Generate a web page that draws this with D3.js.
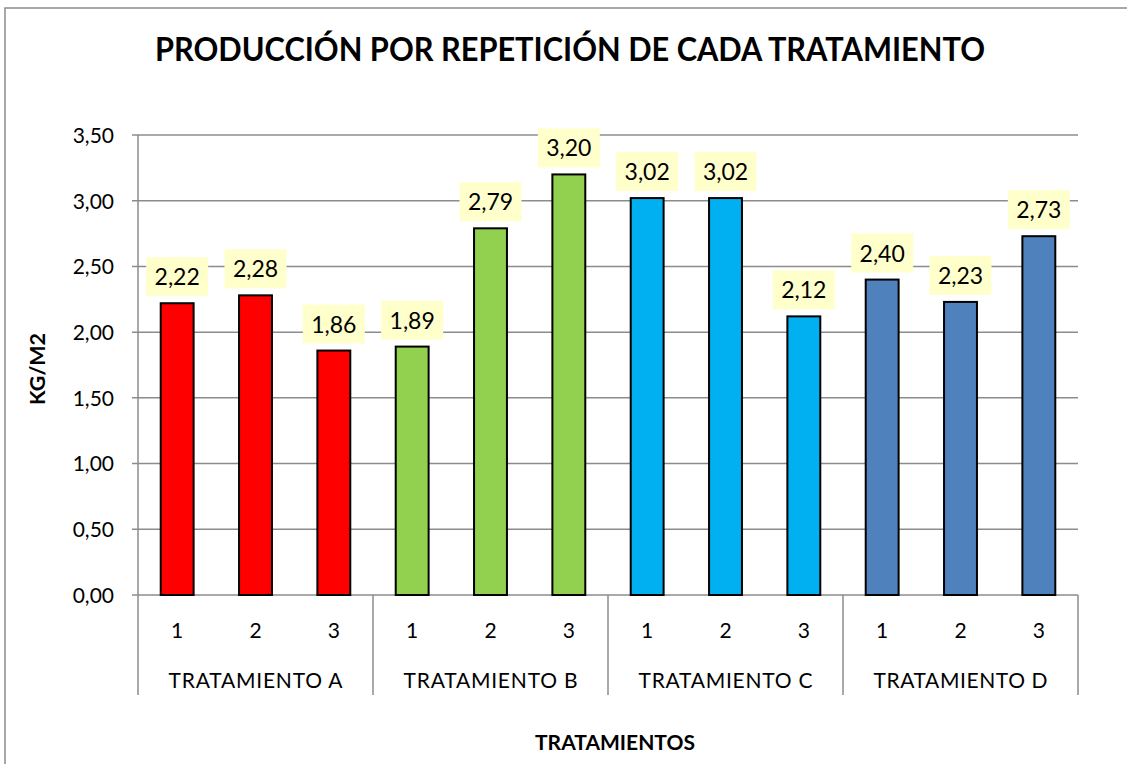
<!DOCTYPE html>
<html>
<head>
<meta charset="utf-8">
<script src="https://cdn.jsdelivr.net/npm/d3@7"></script>
<style>
  html, body { margin: 0; background: #fff; overflow: hidden; }
  svg { display: block; }
  text { font-family: Lato, "Open Sans", sans-serif; fill: #000; }
</style>
</head>
<body>
<div id="chart-area"></div>
<script>
// Data
var groups = ["TRATAMIENTO A", "TRATAMIENTO B", "TRATAMIENTO C", "TRATAMIENTO D"];
var reps = ["1", "2", "3"];
var valuesA = [2.22, 2.28, 1.86];
var valuesB = [1.89, 2.79, 3.20];
var valuesC = [3.02, 3.02, 2.12];
var valuesD = [2.40, 2.23, 2.73];
var groupColors = ["#FF0000", "#92D050", "#00B0F0", "#4F81BD"];
var yTicks = [0, 0.5, 1, 1.5, 2, 2.5, 3, 3.5];

var allValues = [valuesA, valuesB, valuesC, valuesD];
var data = [];
groups.forEach(function(g, gi) {
    reps.forEach(function(r, ri) {
        data.push({ group: g, rep: r, value: allValues[gi][ri], color: groupColors[gi] });
    });
});

var W = 1127, H = 764;
var margin = { top: 135, right: 49, bottom: 169, left: 138 },
    width  = W - margin.left - margin.right,
    height = H - margin.top - margin.bottom;

var fmt = function(v) { return v.toFixed(2).replace(".", ","); };

var svg = d3.select("#chart-area")
    .append("svg")
    .attr("width", W)
    .attr("height", H);

// outer chart border: only left and top edges are inside the picture
svg.append("path")
    .attr("d", "M5," + H + "V8H" + W)
    .attr("fill", "none")
    .attr("stroke", "#8c8c8c")
    .attr("stroke-width", 1.5);

// title
svg.append("text")
    .attr("x", 570)
    .attr("y", 61)
    .attr("text-anchor", "middle")
    .attr("textLength", 830)
    .attr("lengthAdjust", "spacingAndGlyphs")
    .style("font-size", "32px")
    .style("font-weight", "bold")
    .text("PRODUCCIÓN POR REPETICIÓN DE CADA TRATAMIENTO");

var g = svg.append("g")
    .attr("transform", "translate(" + margin.left + "," + margin.top + ")");

// scales
var x0 = d3.scaleBand()
    .domain(groups)
    .range([0, width])
    .padding(0);

var x1 = d3.scaleBand()
    .domain(reps)
    .range([0, x0.bandwidth()])
    .paddingInner(0.58)
    .paddingOuter(0.29);

var yScale = d3.scaleLinear()
    .domain([0, 3.5])
    .range([height, 0]);

// gridlines
g.append("g")
    .selectAll("line")
    .data(yTicks)
    .enter()
    .append("line")
    .attr("x1", -6)
    .attr("x2", width)
    .attr("y1", function(d) { return yScale(d); })
    .attr("y2", function(d) { return yScale(d); })
    .attr("stroke", "#8c8c8c")
    .attr("stroke-width", 1.5);

// y axis
var yAxis = d3.axisLeft(yScale)
    .tickValues(yTicks)
    .tickSize(0)
    .tickPadding(24)
    .tickFormat(fmt);

var yAxisG = g.append("g")
    .attr("class", "y axis")
    .call(yAxis);
yAxisG.select(".domain").remove();
yAxisG.selectAll("text")
    .style("font-family", "Lato, sans-serif")
    .style("font-size", "21px")
    .attr("dy", "0.35em");

// vertical axis line and category separators
var sepX = [0].concat(groups.map(function(d) { return x0(d) + x0.bandwidth(); }));
g.append("g")
    .selectAll("line")
    .data(sepX)
    .enter()
    .append("line")
    .attr("x1", function(d) { return d; })
    .attr("x2", function(d) { return d; })
    .attr("y1", function(d, i) { return i === 0 ? 0 : height; })
    .attr("y2", height + 100)
    .attr("stroke", "#8c8c8c")
    .attr("stroke-width", 1.5);

// bars
var groupG = g.selectAll(".grp")
    .data(groups)
    .enter()
    .append("g")
    .attr("class", "grp")
    .attr("transform", function(d) { return "translate(" + x0(d) + ",0)"; });

groupG.selectAll(".bar")
    .data(function(d) { return data.filter(function(e) { return e.group === d; }); })
    .enter()
    .append("rect")
    .attr("class", "bar")
    .attr("x", function(d) { return x1(d.rep); })
    .attr("width", x1.bandwidth())
    .attr("y", function(d) { return yScale(d.value); })
    .attr("height", function(d) { return height - yScale(d.value); })
    .attr("fill", function(d) { return d.color; })
    .attr("stroke", "#000")
    .attr("stroke-width", 2);

// data labels
var labels = groupG.selectAll(".lbl")
    .data(function(d) { return data.filter(function(e) { return e.group === d; }); })
    .enter()
    .append("g")
    .attr("class", "lbl")
    .attr("transform", function(d) {
        return "translate(" + (x1(d.rep) + x1.bandwidth() / 2) + "," + (yScale(d.value) - 7) + ")";
    });

labels.append("rect")
    .attr("x", -31)
    .attr("y", -39)
    .attr("width", 62)
    .attr("height", 39)
    .attr("fill", "#FFFFCC");

labels.append("text")
    .attr("text-anchor", "middle")
    .attr("y", -11)
    .style("font-size", "23px")
    .text(function(d) { return fmt(d.value); });

// x labels: repetitions
groupG.selectAll(".rep")
    .data(reps)
    .enter()
    .append("text")
    .attr("class", "rep")
    .attr("x", function(d) { return x1(d) + x1.bandwidth() / 2; })
    .attr("y", height + 43)
    .attr("text-anchor", "middle")
    .style("font-size", "21px")
    .text(function(d) { return d; });

// x labels: groups
groupG.append("text")
    .attr("x", x0.bandwidth() / 2)
    .attr("y", height + 93)
    .attr("text-anchor", "middle")
    .style("font-size", "21px")
    .attr("textLength", 174)
    .attr("lengthAdjust", "spacing")
    .text(function(d) { return d; });

// axis titles
svg.append("text")
    .attr("x", 615)
    .attr("y", 750)
    .attr("text-anchor", "middle")
    .style("font-size", "20px")
    .style("font-weight", "bold")
    .attr("textLength", 160)
    .attr("lengthAdjust", "spacingAndGlyphs")
    .text("TRATAMIENTOS");

svg.append("text")
    .attr("transform", "translate(45,369) rotate(-90)")
    .attr("text-anchor", "middle")
    .style("font-size", "21px")
    .style("font-weight", "bold")
    .attr("textLength", 72)
    .attr("lengthAdjust", "spacingAndGlyphs")
    .text("KG/M2");
</script>
</body>
</html>
